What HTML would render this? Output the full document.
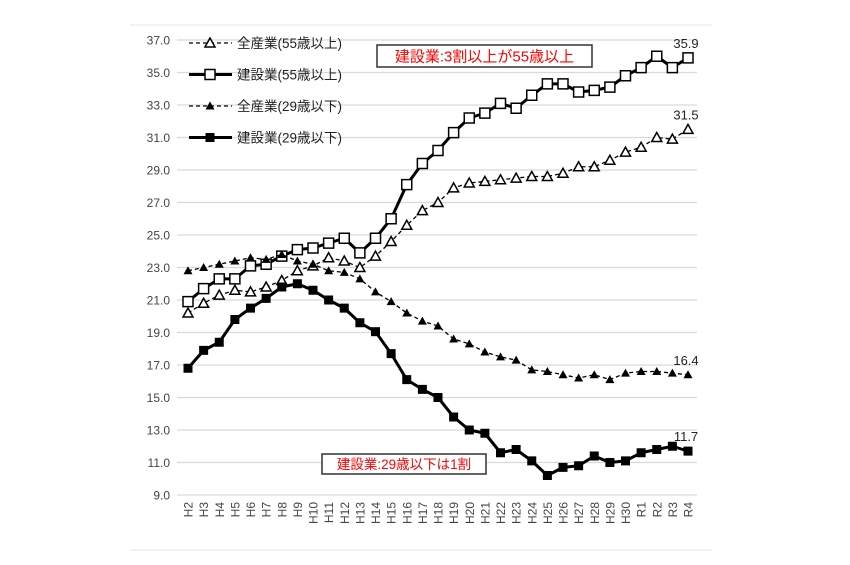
<!DOCTYPE html>
<html><head><meta charset="utf-8"><style>
html,body{margin:0;padding:0;background:#fff;}
svg text{font-family:"Liberation Sans","Noto Sans CJK JP",sans-serif;}
</style></head><body>
<svg id="chart" width="850" height="560" viewBox="0 0 850 560" xmlns="http://www.w3.org/2000/svg">
<line x1="130" y1="25" x2="712" y2="25" stroke="#e4e4e4"/>
<line x1="130" y1="550" x2="712" y2="550" stroke="#e4e4e4"/>
<g id="grid"></g><g id="series"></g><g id="axes"></g>
<g id="legend"></g>
<rect x="377" y="45" width="215" height="22" fill="#fff" stroke="#333" stroke-width="1.5"/>
<text x="484.5" y="61.5" text-anchor="middle" font-size="15" fill="#ff0000">建設業:3割以上が55歳以上</text>
<rect x="322" y="454" width="164" height="20" fill="#fff" stroke="#333" stroke-width="1.5"/>
<text x="404" y="469" text-anchor="middle" font-size="13.5" fill="#ff0000">建設業:29歳以下は1割</text>
</svg>
<script>
const categories=["H2","H3","H4","H5","H6","H7","H8","H9","H10","H11","H12","H13","H14","H15","H16","H17","H18","H19","H20","H21","H22","H23","H24","H25","H26","H27","H28","H29","H30","R1","R2","R3","R4"];
const allInd55=[20.2,20.8,21.3,21.6,21.5,21.8,22.2,22.8,23.1,23.6,23.4,23.0,23.7,24.6,25.6,26.5,27.0,27.9,28.2,28.3,28.4,28.5,28.6,28.6,28.8,29.2,29.2,29.6,30.1,30.4,31.0,30.9,31.5];
const cons55=[20.9,21.7,22.3,22.3,23.1,23.2,23.7,24.1,24.2,24.5,24.8,23.9,24.8,26.0,28.1,29.4,30.2,31.3,32.2,32.5,33.1,32.8,33.6,34.3,34.3,33.8,33.9,34.1,34.8,35.3,36.0,35.3,35.9];
const allInd29=[22.8,23.0,23.2,23.4,23.6,23.5,23.8,23.4,23.2,22.8,22.7,22.3,21.5,20.9,20.2,19.7,19.4,18.6,18.3,17.8,17.5,17.3,16.7,16.6,16.4,16.2,16.4,16.1,16.5,16.6,16.6,16.5,16.4];
const cons29=[16.8,17.9,18.4,19.8,20.5,21.1,21.8,22.0,21.6,21.0,20.5,19.6,19.05,17.7,16.1,15.5,15.0,13.8,13.0,12.8,11.6,11.8,11.1,10.2,10.7,10.8,11.4,11.0,11.1,11.6,11.8,12.0,11.7];
const yTicks=[9,11,13,15,17,19,21,23,25,27,29,31,33,35,37];
const NS="http://www.w3.org/2000/svg";
const X0=188,X1=688,Y0=495,Y1=40,VMIN=9,VMAX=37;
function xs(i){return X0+i*(X1-X0)/(categories.length-1);}
function ys(v){return Y0-(v-VMIN)*(Y0-Y1)/(VMAX-VMIN);}
function mk(tag,attrs,parent){const e=document.createElementNS(NS,tag);for(const k in attrs)e.setAttribute(k,attrs[k]);parent.appendChild(e);return e;}
const grid=document.getElementById('grid'),axes=document.getElementById('axes'),ser=document.getElementById('series'),leg=document.getElementById('legend');
yTicks.forEach(v=>{
  const l=mk('line',{x1:177,x2:697,y1:ys(v),y2:ys(v),stroke:'#d9d9d9','stroke-width':1.2},grid);
  
  
  const t=mk('text',{x:170,y:ys(v)+4.5,'text-anchor':'end','font-size':12,fill:'#444'},axes);
  t.textContent=v.toFixed(1);
  
  
});
categories.forEach((c,i)=>{
  const t=mk('text',{x:0,y:0,'font-size':12,fill:'#444','text-anchor':'end',transform:`translate(${xs(i)+4.5},502) rotate(-90)`},axes);
  t.textContent=c;
  
  
});
function marker(g,type,x,y){
  let e;
  if(type==='tri-open') e=mk('polygon',{points:`${x},${y-5} ${x-5},${y+4} ${x+5},${y+4}`,fill:'#fff',stroke:'#000','stroke-width':1.5},g);
  else if(type==='tri-fill') e=mk('polygon',{points:`${x},${y-4.5} ${x-4.5},${y+3.5} ${x+4.5},${y+3.5}`,fill:'#000'},g);
  else if(type==='sq-open') e=mk('rect',{x:x-5,y:y-5,width:10,height:10,fill:'#fff',stroke:'#000','stroke-width':1.5},g);
  else e=mk('rect',{x:x-4.5,y:y-4.5,width:9,height:9,fill:'#000'},g);
  return e;
}
const defs=[
 {d:allInd55,name:'all-industry-55plus',type:'tri-open',w:1.3,dash:'4 3',label:'全産業(55歳以上)'},
 {d:cons55,name:'construction-55plus',type:'sq-open',w:3,dash:'',label:'建設業(55歳以上)'},
 {d:allInd29,name:'all-industry-29minus',type:'tri-fill',w:1.3,dash:'4 3',label:'全産業(29歳以下)'},
 {d:cons29,name:'construction-29minus',type:'sq-fill',w:3,dash:'',label:'建設業(29歳以下)'}
];
defs.forEach((s,k)=>{
  const g=mk('g',{},ser);
  
  
  const p=mk('polyline',{points:s.d.map((v,i)=>xs(i)+','+ys(v)).join(' '),fill:'none',stroke:'#000','stroke-width':s.w,'stroke-dasharray':s.dash,'stroke-linejoin':'round'},g);
  
  
  s.d.forEach((v,i)=>{
    const m=marker(g,s.type,xs(i),ys(v));
    
    
  });
  const ly=43+k*31.5;
  const lg=mk('g',{},leg);
  
  
  mk('line',{x1:189,x2:232,y1:ly,y2:ly,stroke:'#000','stroke-width':s.w,'stroke-dasharray':s.dash},lg);
  marker(lg,s.type,210,ly);
  const t=mk('text',{x:237,y:ly+5,'font-size':13.5,fill:'#222'},lg);
  t.textContent=s.label;
  const last=s.d.length-1;
  const dl=mk('text',{x:xs(last)-2,y:ys(s.d[last])-10,'text-anchor':'middle','font-size':13,fill:'#222'},ser);
  dl.textContent=s.d[last].toFixed(1);
  
  
});
</script>
</body></html>
